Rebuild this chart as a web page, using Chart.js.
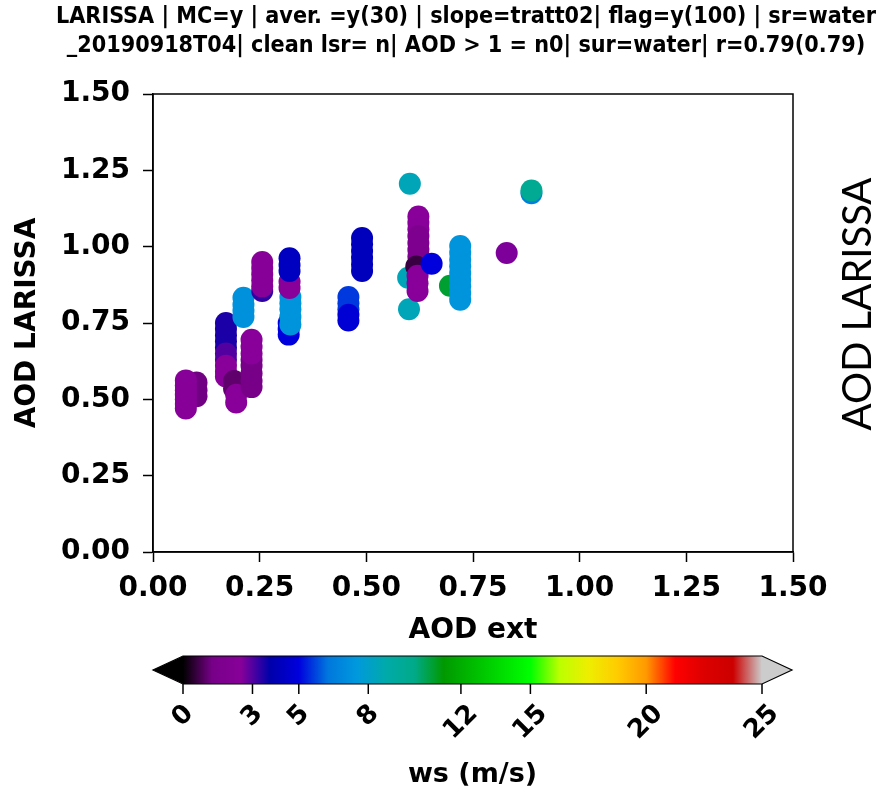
<!DOCTYPE html>
<html>
<head>
<meta charset="utf-8">
<script src="https://cdn.jsdelivr.net/npm/chart.js@4.4.1/dist/chart.umd.min.js"></script>
<style>
  html, body { margin: 0; padding: 0; background: #fff; }
  #wrap { width: 892px; height: 792px; }
</style>
</head>
<body>
<div id="wrap"><canvas id="scatter" width="892" height="792"></canvas></div>
<script>
// AOD from extinction vs. AOD at LARISSA, coloured by wind speed
const aodExt = [
  0.102, 0.102, 0.102,
  0.077, 0.077, 0.077, 0.077, 0.077, 0.077, 0.077,
  0.171, 0.171, 0.171, 0.171, 0.171, 0.171, 0.171, 0.171, 0.171, 0.171,
  0.190, 0.190, 0.195, 0.195,
  0.212, 0.212, 0.212, 0.212,
  0.231, 0.231, 0.231, 0.231, 0.231, 0.231, 0.231, 0.231,
  0.256, 0.256, 0.256, 0.256, 0.256, 0.256,
  0.318, 0.318, 0.318, 0.322, 0.322, 0.322, 0.322, 0.322, 0.320, 0.320, 0.320, 0.320, 0.320,
  0.458, 0.458, 0.458, 0.458, 0.458,
  0.490, 0.490, 0.490, 0.490, 0.490, 0.490,
  0.600, 0.598, 0.602,
  0.622, 0.622, 0.622, 0.622, 0.622, 0.622, 0.622, 0.617, 0.620, 0.620, 0.620,
  0.653,
  0.696,
  0.720, 0.720, 0.720, 0.720, 0.720, 0.720, 0.720, 0.720, 0.720,
  0.829,
  0.887, 0.887
];
const aodLarissa = [
  0.510, 0.530, 0.555,
  0.470, 0.485, 0.500, 0.515, 0.530, 0.545, 0.562,
  0.750, 0.730, 0.710, 0.690, 0.670, 0.650, 0.630, 0.610, 0.590, 0.575,
  0.560, 0.535, 0.515, 0.490,
  0.770, 0.790, 0.810, 0.833,
  0.540, 0.560, 0.585, 0.610, 0.630, 0.650, 0.672, 0.695,
  0.855, 0.870, 0.890, 0.910, 0.930, 0.950,
  0.712, 0.730, 0.750, 0.745, 0.770, 0.795, 0.815, 0.835, 0.865, 0.885, 0.920, 0.940, 0.962,
  0.835, 0.815, 0.795, 0.777, 0.758,
  0.920, 0.942, 0.964, 0.986, 1.008, 1.028,
  0.795, 0.898, 1.206,
  1.099, 1.078, 1.057, 1.035, 1.012, 0.990, 0.968, 0.935, 0.905, 0.880, 0.855,
  0.944,
  0.872,
  0.826, 0.848, 0.870, 0.892, 0.914, 0.936, 0.958, 0.980, 1.002,
  0.979,
  1.175, 1.184
];
const windSpeed = [
  1.2, 1.2, 1.2,
  2.4, 2.4, 2.4, 2.4, 2.4, 2.4, 2.4,
  3.5, 3.5, 3.5, 3.5, 3.5, 3.0, 3.0, 2.5, 2.5, 2.5,
  1.0, 1.0, 2.5, 2.5,
  7.2, 7.2, 7.2, 7.2,
  1.3, 1.3, 1.3, 1.3, 1.3, 2.5, 2.5, 2.5,
  3.3, 2.4, 2.4, 2.4, 2.4, 2.4,
  5.0, 5.0, 5.0, 7.3, 7.3, 7.3, 7.3, 7.3, 2.5, 2.5, 4.3, 4.3, 4.3,
  5.6, 5.6, 5.6, 4.8, 4.8,
  4.2, 4.2, 4.2, 4.2, 4.2, 4.2,
  8.4, 8.4, 8.4,
  2.5, 2.5, 2.5, 1.8, 1.8, 1.8, 1.8, 0.6, 2.5, 2.5, 2.5,
  5.0,
  10.8,
  7.3, 7.3, 7.3, 7.3, 7.3, 7.3, 7.3, 7.3, 7.3,
  2.6,
  6.5, 9.6
];

const axisTicks = [0, 0.25, 0.5, 0.75, 1.0, 1.25, 1.5];
const wsTicks = [0, 3, 5, 8, 12, 15, 20, 25];
const wsMin = 0;
const wsMax = 25;

const titleLines = [
  "LARISSA | MC=y | aver. =y(30) | slope=tratt02| flag=y(100) | sr=water",
  "_20190918T04| clean lsr= n| AOD > 1 = n0| sur=water| r=0.79(0.79)"
];

// nipy_spectral stops, every 0.05
const SPECTRAL = [
  [0.0, 0.0, 0.0], [0.4667, 0.0, 0.5333], [0.5333, 0.0, 0.6], [0.0, 0.0, 0.6667],
  [0.0, 0.0, 0.8667], [0.0, 0.4667, 0.8667], [0.0, 0.6, 0.8667], [0.0, 0.6667, 0.6667],
  [0.0, 0.6667, 0.5333], [0.0, 0.6, 0.0], [0.0, 0.7333, 0.0], [0.0, 0.8667, 0.0],
  [0.0, 1.0, 0.0], [0.7333, 1.0, 0.0], [0.9333, 0.9333, 0.0], [1.0, 0.8, 0.0],
  [1.0, 0.6, 0.0], [1.0, 0.0, 0.0], [0.8667, 0.0, 0.0], [0.8, 0.0, 0.0], [0.8, 0.8, 0.8]
];

function spectral(t) {
  t = Math.min(1, Math.max(0, t));
  const pos = t * 20;
  const i = Math.min(19, Math.floor(pos));
  const f = pos - i;
  const a = SPECTRAL[i], b = SPECTRAL[i + 1];
  const c = a.map((v, k) => Math.round((v + (b[k] - v) * f) * 255));
  return `rgb(${c[0]},${c[1]},${c[2]})`;
}

const wsColor = (ws) => spectral((ws - wsMin) / (wsMax - wsMin));

const BOLD = '"DejaVu Sans", sans-serif';
const NARROW = '"DejaVu Sans Condensed", "DejaVu Sans", sans-serif';

const CBAR = { left: 183, right: 762, top: 656, bottom: 684, arrow: 30 };

const decorations = {
  id: "decorations",
  afterDraw(chart) {
    const ctx = chart.ctx;
    const area = chart.chartArea;
    ctx.save();

    // frame
    ctx.strokeStyle = "#000";
    ctx.lineWidth = 1.5;
    ctx.strokeRect(area.left, area.top, area.right - area.left, area.bottom - area.top);

    ctx.fillStyle = "#000";

    // title, two lines in a narrow bold face
    ctx.font = `bold 23px ${NARROW}`;
    const w0 = ctx.measureText(titleLines[0]).width;
    const sx = 820 / w0;
    ctx.textAlign = "center";
    ctx.textBaseline = "middle";
    [17, 46].forEach((y, i) => {
      ctx.save();
      ctx.translate(466, y);
      ctx.scale(sx, 1);
      ctx.fillText(titleLines[i], 0, 0);
      ctx.restore();
    });

    // axis titles
    ctx.font = `bold 28px ${BOLD}`;
    ctx.fillText("AOD ext", (area.left + area.right) / 2, 631);
    ctx.save();
    ctx.translate(28, (area.top + area.bottom) / 2);
    ctx.rotate(-Math.PI / 2);
    ctx.fillText("AOD LARISSA", 0, 0);
    ctx.restore();

    // label on the right edge
    ctx.save();
    ctx.font = '40px Lato, "Open Sans", sans-serif';
    ctx.translate(858, 304);
    ctx.rotate(-Math.PI / 2);
    ctx.fillText("AOD LARISSA", 0, 0);
    ctx.restore();

    // colour bar
    const cx = (v) => CBAR.left + (v - wsMin) / (wsMax - wsMin) * (CBAR.right - CBAR.left);
    const mid = (CBAR.top + CBAR.bottom) / 2;
    const grad = ctx.createLinearGradient(CBAR.left, 0, CBAR.right, 0);
    SPECTRAL.forEach((c, i) => {
      grad.addColorStop(i / 20, `rgb(${c.map((v) => Math.round(v * 255)).join(",")})`);
    });
    ctx.fillStyle = grad;
    ctx.fillRect(CBAR.left, CBAR.top, CBAR.right - CBAR.left, CBAR.bottom - CBAR.top);

    ctx.fillStyle = wsColor(wsMin - 1);
    ctx.beginPath();
    ctx.moveTo(CBAR.left + 0.5, CBAR.top);
    ctx.lineTo(CBAR.left - CBAR.arrow, mid);
    ctx.lineTo(CBAR.left + 0.5, CBAR.bottom);
    ctx.closePath();
    ctx.fill();

    ctx.fillStyle = wsColor(wsMax + 1);
    ctx.beginPath();
    ctx.moveTo(CBAR.right - 0.5, CBAR.top);
    ctx.lineTo(CBAR.right + CBAR.arrow, mid);
    ctx.lineTo(CBAR.right - 0.5, CBAR.bottom);
    ctx.closePath();
    ctx.fill();

    ctx.strokeStyle = "#000";
    ctx.lineWidth = 1.2;
    ctx.beginPath();
    ctx.moveTo(CBAR.left, CBAR.top);
    ctx.lineTo(CBAR.right, CBAR.top);
    ctx.lineTo(CBAR.right + CBAR.arrow, mid);
    ctx.lineTo(CBAR.right, CBAR.bottom);
    ctx.lineTo(CBAR.left, CBAR.bottom);
    ctx.lineTo(CBAR.left - CBAR.arrow, mid);
    ctx.closePath();
    ctx.stroke();

    // colour bar ticks and rotated labels
    ctx.lineWidth = 1.5;
    ctx.fillStyle = "#000";
    ctx.font = `bold 26px ${BOLD}`;
    wsTicks.forEach((v) => {
      const x = cx(v);
      ctx.beginPath();
      ctx.moveTo(x, CBAR.bottom);
      ctx.lineTo(x, CBAR.bottom + 10);
      ctx.stroke();
      const label = String(v);
      const w = ctx.measureText(label).width;
      const h = 19;
      const box = (w + h) / Math.SQRT2;
      ctx.save();
      ctx.translate(x, 703 + box / 2);
      ctx.rotate(-Math.PI / 4);
      ctx.textAlign = "center";
      ctx.textBaseline = "middle";
      ctx.fillText(label, 0, 0);
      ctx.restore();
    });

    ctx.font = `bold 27px ${BOLD}`;
    ctx.textAlign = "center";
    ctx.textBaseline = "middle";
    ctx.fillText("ws (m/s)", (CBAR.left + CBAR.right) / 2, 775);

    ctx.restore();
  }
};

const points = aodExt.map((x, i) => ({ x, y: aodLarissa[i] }));

const tickFont = { family: BOLD, size: 28, weight: "bold" };
const axisGrid = {
  display: true,
  drawOnChartArea: false,
  drawTicks: true,
  tickLength: 10,
  tickWidth: 1.5,
  tickColor: "#000"
};

new Chart(document.getElementById("scatter"), {
  type: "scatter",
  data: {
    datasets: [{
      label: "AOD",
      data: points,
      backgroundColor: windSpeed.map(wsColor),
      borderWidth: 0,
      pointRadius: 11,
      pointHoverRadius: 11
    }]
  },
  options: {
    responsive: false,
    animation: false,
    devicePixelRatio: 1,
    layout: { padding: { top: 94, right: 99, left: 0, bottom: 0 } },
    plugins: {
      legend: { display: false },
      tooltip: { enabled: false }
    },
    scales: {
      x: {
        type: "linear",
        min: 0,
        max: 1.5,
        afterBuildTicks: (scale) => { scale.ticks = axisTicks.map((value) => ({ value })); },
        afterFit: (scale) => { scale.height = 240; },
        ticks: {
          callback: (v) => Number(v).toFixed(2),
          color: "#000",
          font: tickFont,
          padding: 10,
          maxRotation: 0
        },
        grid: axisGrid,
        border: { display: true, color: "#000", width: 1.5 }
      },
      y: {
        type: "linear",
        min: 0,
        max: 1.5,
        afterBuildTicks: (scale) => { scale.ticks = axisTicks.map((value) => ({ value })); },
        afterFit: (scale) => { scale.width = 153; },
        ticks: {
          callback: (v) => Number(v).toFixed(2),
          color: "#000",
          font: tickFont,
          padding: 13
        },
        grid: axisGrid,
        border: { display: true, color: "#000", width: 1.5 }
      }
    }
  },
  plugins: [decorations]
});
</script>
</body>
</html>
